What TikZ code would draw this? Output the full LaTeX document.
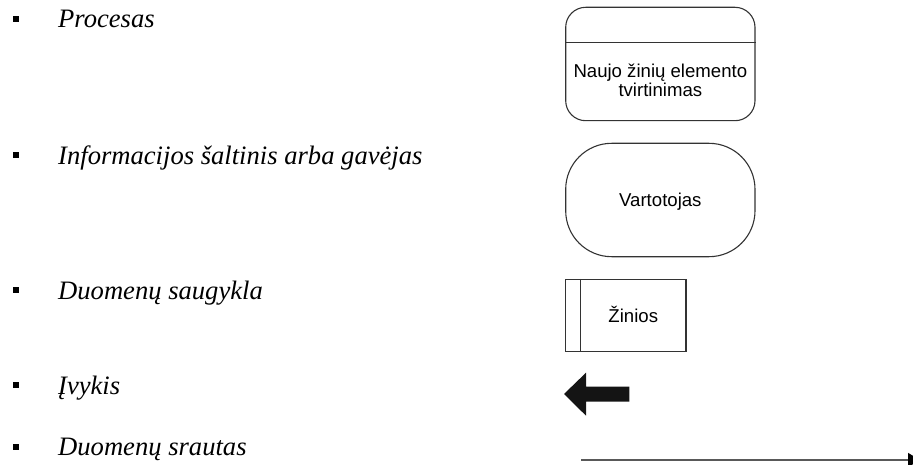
\documentclass[tikz,border=0pt]{standalone}
\usepackage{fontspec}
\setmainfont{Liberation Serif}
\newfontfamily\boxfont{Liberation Sans}
\usetikzlibrary{arrows.meta}
\begin{document}
\begin{tikzpicture}[x=1pt,y=-1pt,
  itemtext/.style={anchor=base west, inner sep=0pt, font=\fontsize{26.6}{32}\selectfont\itshape},
  bulletmark/.style={rectangle, fill=black, draw=none, minimum size=6pt, inner sep=0pt},
  shapeline/.style={draw=black!80, line width=1.1pt, inner sep=0pt},
  boxtext/.style={anchor=base, inner sep=0pt, font=\boxfont\fontsize{18.6}{20}\selectfont},
  flowline/.style={draw=black!65, line width=1.5pt, -{Triangle[length=12pt,width=14pt,black]}},
]
\useasboundingbox (0,0) rectangle (913,465);
\clip (0,0) rectangle (913,465);

% legend entries
\node[bulletmark] (b1) at (15.5,19) {};
\node[itemtext] (t1) at (58,28) {Procesas};
\node[bulletmark] (b2) at (15.5,155.5) {};
\node[itemtext] (t2) at (58,164.5) {Informacijos šaltinis arba gavėjas};
\node[bulletmark] (b3) at (15.5,290) {};
\node[itemtext] (t3) at (58,299) {Duomenų saugykla};
\node[bulletmark] (b4) at (15.5,385) {};
\node[itemtext] (t4) at (58,394) {Įvykis};
\node[bulletmark] (b5) at (15.5,446.5) {};
\node[itemtext] (t5) at (58,455.5) {Duomenų srautas};

% process
\node[shapeline, rounded corners=20pt, minimum width=189.3pt, minimum height=113.4pt] (proc) at (660.35,64) {};
\draw[shapeline] ([yshift=-36pt]proc.north west) -- ([yshift=-36pt]proc.north east);
\node[boxtext] (procA) at (660.35,77.3) {Naujo žinių elemento};
\node[boxtext] (procB) at (660.35,96.9) {tvirtinimas};

% external entity
\node[shapeline, rounded corners=46pt, minimum width=189.3pt, minimum height=113.4pt] (user) at (660.35,200) {};
\node[boxtext] (userlabel) at (660.35,206.7) {Vartotojas};

% data store
\node[shapeline, minimum width=120.3pt, minimum height=72.4pt] (store) at (625.85,315.5) {};
\draw[shapeline] ([xshift=15pt]store.north west) -- ([xshift=15pt]store.south west);
\node[boxtext] (storelabel) at (633.3,322.7) {Žinios};

% event
\fill[black!92] (564,394) -- (586,372.7) -- (586,386.7) -- (629.3,386.7)
  -- (629.3,401.7) -- (586,401.7) -- (586,415.7) -- cycle;

% data flow
\coordinate (fs) at (581,460);
\coordinate (fe) at (920,460);
\draw[flowline] (fs) -- (fe);
\end{tikzpicture}
\end{document}
